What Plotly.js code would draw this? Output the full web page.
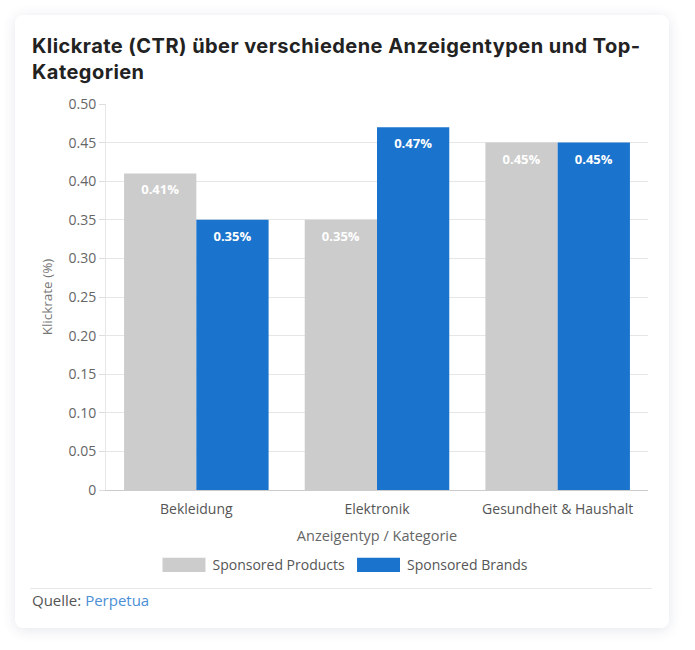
<!DOCTYPE html>
<html>
<head>
<meta charset="utf-8">
<script src="https://cdn.plot.ly/plotly-3.0.1.min.js"></script>
<style>
  html, body { margin: 0; padding: 0; width: 695px; height: 650px; background: #ffffff; overflow: hidden; }
  #card { position: absolute; left: 15px; top: 15px; width: 654px; height: 613px; background: #fff; border-radius: 8px;
          box-shadow: 0 2px 14px rgba(30, 50, 90, 0.12); }
  #title { position: absolute; left: 32px; top: 33px; width: 630px; margin: 0; font-family: "Inter", "Noto Sans", sans-serif;
           font-weight: 700; font-size: 20px; line-height: 26px; color: #222; letter-spacing: 0.45px; }
  #divider { position: absolute; left: 30px; top: 588px; width: 622px; height: 1px; background: #e8e8e8; }
  #source { position: absolute; left: 32px; top: 590px; font-family: "Open Sans", sans-serif; font-size: 15px; color: #555; }
  #source span { color: #4a8fd6; }
  #chart { position: absolute; left: 0; top: 0; width: 695px; height: 650px; }
</style>
</head>
<body>
<div id="card"></div>
<h2 id="title">Klickrate (CTR) über verschiedene Anzeigentypen und Top-Kategorien</h2>
<div id="divider"></div>
<div id="source">Quelle: <span>Perpetua</span></div>
<div id="chart"></div>
<script>
const categories = ["Bekleidung", "Elektronik", "Gesundheit & Haushalt"];
const seriesNames = ["Sponsored Products", "Sponsored Brands"];
const sponsoredProducts = [0.41, 0.35, 0.45];
const sponsoredBrands = [0.35, 0.47, 0.45];
const yTickVals = [0, 0.05, 0.10, 0.15, 0.20, 0.25, 0.30, 0.35, 0.40, 0.45, 0.50];
const yTickText = ["0", "0.05", "0.10", "0.15", "0.20", "0.25", "0.30", "0.35", "0.40", "0.45", "0.50"];

const labelFont = { family: "Open Sans, sans-serif", size: 13, color: "#ffffff", weight: 700 };

function makeTrace(name, values, color) {
  return {
    type: "bar", name: name, x: categories, y: values,
    marker: { color: color },
    text: values.map(v => v.toFixed(2) + "%"),
    textposition: "inside", insidetextanchor: "end",
    textfont: labelFont, textangle: 0,
    hoverinfo: "skip"
  };
}

const data = [
  makeTrace(seriesNames[0], sponsoredProducts, "#cccccc"),
  makeTrace(seriesNames[1], sponsoredBrands, "#1a73cc")
];

const layout = {
  width: 695, height: 650,
  paper_bgcolor: "rgba(0,0,0,0)", plot_bgcolor: "rgba(0,0,0,0)",
  margin: { l: 106, r: 47, t: 104, b: 160 },
  font: { family: "Open Sans, sans-serif", color: "#666" },
  barmode: "group", bargap: 0.2, bargroupgap: 0,
  showlegend: true,
  legend: { orientation: "h", x: 0.44, xanchor: "center", y: -0.195, yanchor: "middle",
            font: { size: 14, color: "#555" }, itemwidth: 43, traceorder: "normal" },
  xaxis: {
    type: "category", showgrid: false, showline: true, linecolor: "#cccccc", linewidth: 1,
    ticks: "", tickfont: { size: 14, color: "#555" }, ticklabelstandoff: 6,
    title: { text: "Anzeigentyp / Kategorie", font: { size: 14.5, color: "#666" }, standoff: 14 }
  },
  yaxis: {
    range: [0, 0.5], tickvals: yTickVals, ticktext: yTickText,
    showgrid: true, gridcolor: "#e6e6e6", gridwidth: 1,
    showline: true, linecolor: "#e6e6e6", zeroline: false,
    ticks: "outside", ticklen: 6, tickcolor: "#dddddd",
    tickfont: { size: 14, color: "#666" },
    title: { text: "Klickrate (%)", font: { size: 13.5, color: "#777" }, standoff: 12 }
  }
};

Plotly.newPlot("chart", data, layout, { staticPlot: true, displayModeBar: false }).then(() => {
  const items = Array.from(document.querySelectorAll("#chart .legend .traces"));
  items.forEach((item, i) => {
    const path = item.querySelector(".legendpoints path");
    const text = item.querySelector("text.legendtext");
    if (!path || !text) return;
    if (i > 0) {
      const cur = item.getAttribute("transform") || "";
      item.setAttribute("transform", cur + " translate(4,0)");
    }
    path.removeAttribute("transform");
    const pb = path.getBoundingClientRect();
    const tb = text.getBoundingClientRect();
    const cx = pb.left + pb.width / 2;
    const desired = tb.left - 7 - 21.5;
    path.setAttribute("transform", "translate(" + (desired - cx) + ",0) scale(3.58,1.17)");
  });
  document.querySelectorAll("#chart .bars .point text").forEach(t => {
    const cur = t.getAttribute("transform") || "";
    t.setAttribute("transform", "translate(0,4) " + cur);
  });
});
</script>
</body>
</html>
